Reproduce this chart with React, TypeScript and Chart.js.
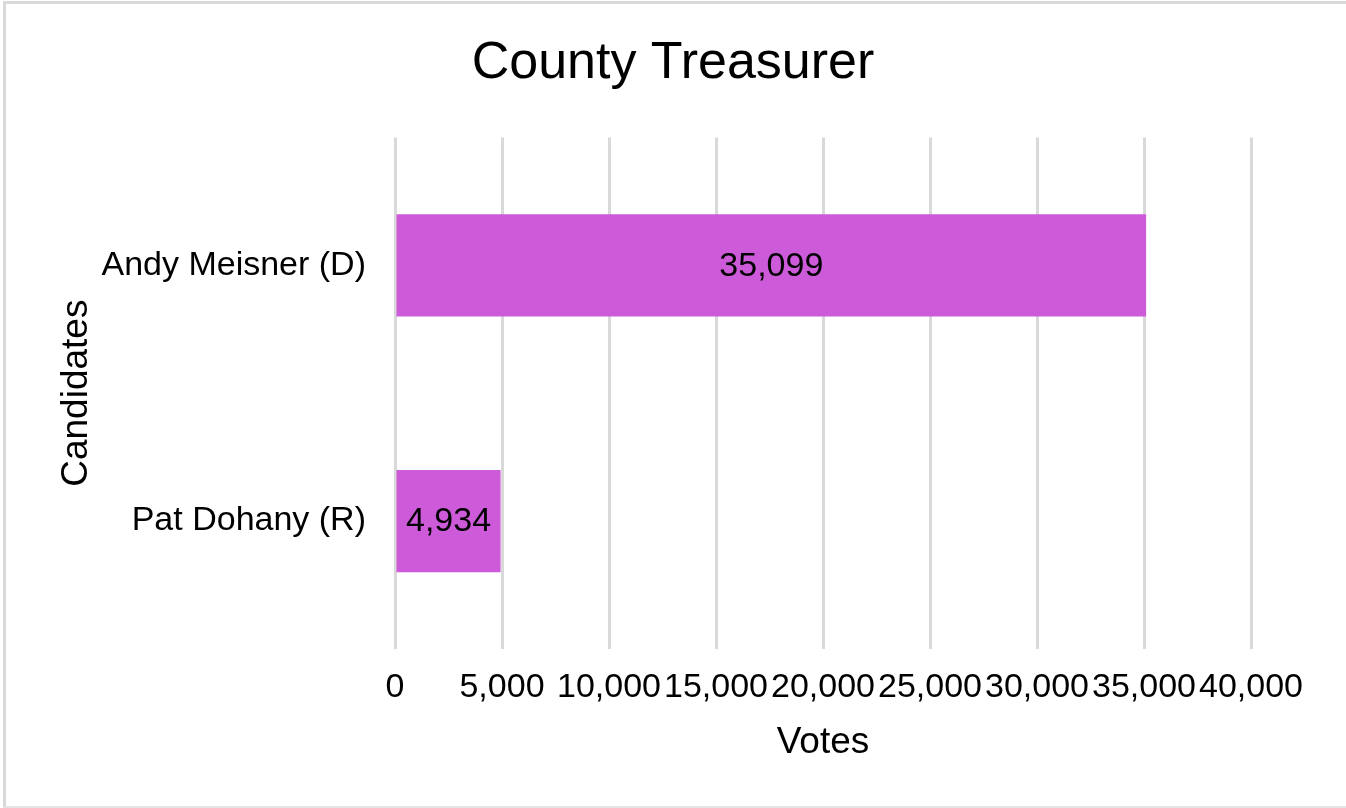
import React, { useEffect, useRef } from 'react';
import { Chart, registerables } from 'chart.js';

Chart.register(...registerables);

const chartTitle = 'County Treasurer';
const candidates = ['Andy Meisner (D)', 'Pat Dohany (R)'];
const votes = [35099, 4934];
const xMin = 0;
const xMax = 40000;
const xStep = 5000;
const xAxisTitle = 'Votes';
const yAxisTitle = 'Candidates';

const FONT = '"Liberation Sans", Arial, Helvetica, sans-serif';
const W = 1346;
const H = 808;
const BAR_COLOR = '#cd5bd9';
const GRID_COLOR = '#d9d9d9';

const fmt = (v: number) => Number(v).toLocaleString('en-US');

const bgPlugin = {
  id: 'bgBorder',
  beforeDraw(chart: any) {
    const ctx = chart.ctx;
    ctx.save();
    ctx.fillStyle = '#ffffff';
    ctx.fillRect(0, 0, chart.width, chart.height);
    ctx.fillStyle = '#d9d9d9';
    ctx.fillRect(3, 1, chart.width - 3, 3);
    ctx.fillRect(3, 1, 3, chart.height - 2);
    ctx.fillStyle = '#e3e3e3';
    ctx.fillRect(3, chart.height - 2, chart.width - 3, 2);
    ctx.restore();
  },
};

const dataLabelPlugin = {
  id: 'dataLabels',
  afterDatasetsDraw(chart: any) {
    const ctx = chart.ctx;
    const meta = chart.getDatasetMeta(0);
    ctx.save();
    ctx.font = `34px ${FONT}`;
    ctx.fillStyle = '#000000';
    ctx.textAlign = 'center';
    ctx.textBaseline = 'middle';
    meta.data.forEach((el: any, i: number) => {
      const { x, y, base } = el.getProps(['x', 'y', 'base'], true);
      ctx.fillText(fmt(votes[i]), (x + base) / 2, y + 1);
    });
    ctx.restore();
  },
};

export default function App() {
  const ref = useRef<HTMLCanvasElement | null>(null);

  useEffect(() => {
    document.body.style.margin = '0';
    const canvas = ref.current;
    if (!canvas) return;
    const chart = new Chart(canvas, {
      type: 'bar',
      data: {
        labels: candidates,
        datasets: [
          {
            data: votes,
            backgroundColor: BAR_COLOR,
            borderWidth: 0,
            barPercentage: 0.4,
            categoryPercentage: 1,
          },
        ],
      },
      options: {
        indexAxis: 'y',
        responsive: false,
        animation: false,
        devicePixelRatio: 1,
        layout: {
          padding: { left: 0, right: 0, top: 0, bottom: 0 },
        },
        plugins: {
          legend: { display: false },
          tooltip: { enabled: false },
          title: {
            display: true,
            text: chartTitle,
            color: '#000000',
            font: { family: FONT, size: 52, weight: 'normal' },
            padding: { top: 32, bottom: 43 },
          },
        },
        scales: {
          x: {
            type: 'linear',
            min: xMin,
            max: xMax,
            border: { display: false },
            grid: {
              color: GRID_COLOR,
              lineWidth: 3,
              drawTicks: false,
            },
            ticks: {
              stepSize: xStep,
              autoSkip: false,
              maxRotation: 0,
              minRotation: 0,
              padding: 18,
              color: '#000000',
              font: { family: FONT, size: 34 },
              callback: (v: any) => fmt(v),
            },
            title: {
              display: true,
              text: xAxisTitle,
              color: '#000000',
              font: { family: FONT, size: 37 },
              padding: { top: 0, bottom: 43 },
            },
            afterFit: (scale: any) => {
              scale.height = H - 649;
              scale.paddingLeft = 0;
              scale.paddingRight = W - 1251;
            },
          },
          y: {
            type: 'category',
            border: { display: false },
            grid: { display: false, drawTicks: false },
            ticks: {
              padding: 29,
              color: '#000000',
              font: { family: FONT, size: 34 },
            },
            title: {
              display: true,
              text: yAxisTitle,
              color: '#000000',
              font: { family: FONT, size: 37 },
              padding: { top: 55, bottom: 0 },
            },
            afterFit: (scale: any) => {
              scale.width = 395;
            },
          },
        },
      },
      plugins: [bgPlugin, dataLabelPlugin],
    });
    return () => chart.destroy();
  }, []);

  return (
    <canvas
      ref={ref}
      width={W}
      height={H}
      style={{ display: 'block', width: W + 'px', height: H + 'px' }}
    />
  );
}
